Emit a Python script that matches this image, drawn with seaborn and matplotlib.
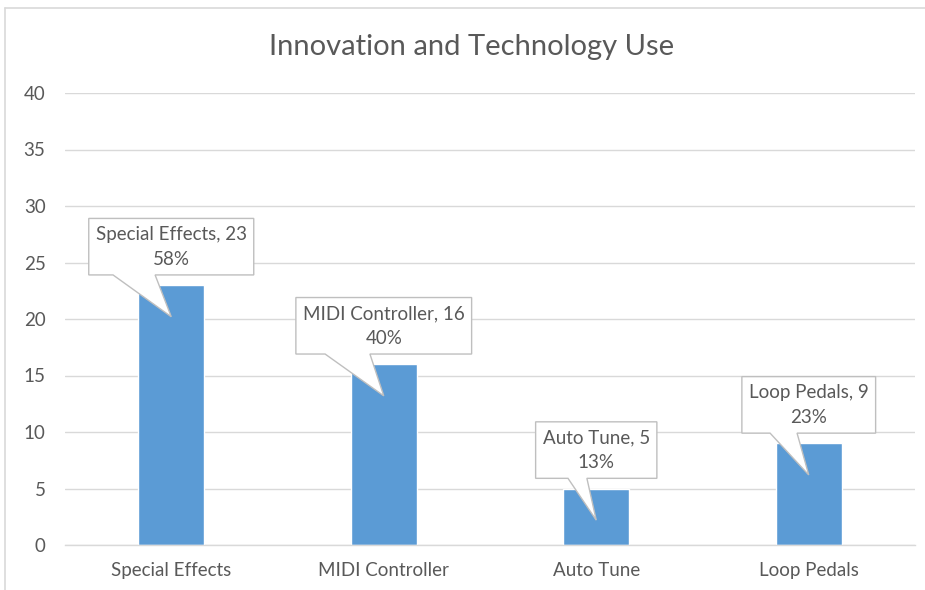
import matplotlib
matplotlib.use("Agg")
import matplotlib.pyplot as plt
from matplotlib.patches import Polygon
from matplotlib.lines import Line2D
import seaborn as sns
import pandas as pd

# Survey results: number of respondents using each technology
categories = ["Special Effects", "MIDI Controller", "Auto Tune", "Loop Pedals"]
counts = [23, 16, 5, 9]
percents = [58, 40, 13, 23]
y_ticks = [0, 5, 10, 15, 20, 25, 30, 35, 40]
title = "Innovation and Technology Use"

# Callout wedge base, as offsets from the bar centre (category units)
wedge_base = [(-0.274, -0.076), (-0.276, -0.065), (-0.133, -0.044), (-0.182, -0.055)]

BAR = "#5B9BD5"
TEXT = "#595959"
GRID = "#D9D9D9"
EDGE = "#BFBFBF"

sns.set_theme(style="white")
plt.rcParams["font.family"] = ["Lato", "DejaVu Sans"]

df = pd.DataFrame({"category": categories, "count": counts})

fig = plt.figure(figsize=(9.25, 5.9), dpi=100)
ax = fig.add_axes([65 / 925, 1 - 545 / 590, 850 / 925, 452 / 590])

sns.barplot(data=df, x="category", y="count", color=BAR, width=0.31,
            saturation=1, ax=ax, zorder=2)

ax.set_xlim(-0.5, len(categories) - 0.5)
ax.set_ylim(0, 40)
ax.set_yticks(y_ticks)
ax.set_yticklabels([str(t) for t in y_ticks])
ax.set_xlabel("")
ax.set_ylabel("")
ax.yaxis.grid(True, color=GRID, linewidth=1, zorder=0)
ax.set_axisbelow(True)
for side in ["top", "right", "left"]:
    ax.spines[side].set_visible(False)
ax.spines["bottom"].set_color(GRID)
ax.spines["bottom"].set_linewidth(1)
ax.tick_params(axis="both", length=0, colors=TEXT, labelsize=13.5)
ax.tick_params(axis="y", pad=14)
ax.tick_params(axis="x", pad=12)

fig.text(472 / 925, 1 - 47 / 590, title, ha="center", va="center",
         fontsize=21, color=TEXT)

# Frame around the chart area
fig.add_artist(Line2D([5 / 925, 1], [1 - 8 / 590, 1 - 8 / 590],
                      transform=fig.transFigure, color=GRID, linewidth=1.2))
fig.add_artist(Line2D([5 / 925, 5 / 925], [0, 1 - 8 / 590],
                      transform=fig.transFigure, color=GRID, linewidth=1.2))

# Data callouts
fig.canvas.draw()
renderer = fig.canvas.get_renderer()
inv = ax.transData.inverted()
box_h = 5.0      # data units
gap = 0.9        # box bottom above bar top
tip_drop = 2.8   # wedge tip below bar top
pad_px = 7

for i, (cat, val, pct) in enumerate(zip(categories, counts, percents)):
    y0 = val + gap
    y1 = y0 + box_h
    txt = ax.text(i, (y0 + y1) / 2, f"{cat}, {val}\n{pct}%", ha="center",
                  va="center", fontsize=13.5, color=TEXT, linespacing=1.55,
                  zorder=5)
    bb = txt.get_window_extent(renderer)
    xl = inv.transform((bb.x0 - pad_px, 0))[0]
    xr = inv.transform((bb.x1 + pad_px, 0))[0]
    bl, br = wedge_base[i]
    verts = [(xl, y1), (xr, y1), (xr, y0), (i + br, y0),
             (i, val - tip_drop), (i + bl, y0), (xl, y0)]
    ax.add_patch(Polygon(verts, closed=True, facecolor="white",
                         edgecolor=EDGE, linewidth=1, zorder=4,
                         clip_on=False))

fig.savefig("out.png", dpi=100)
